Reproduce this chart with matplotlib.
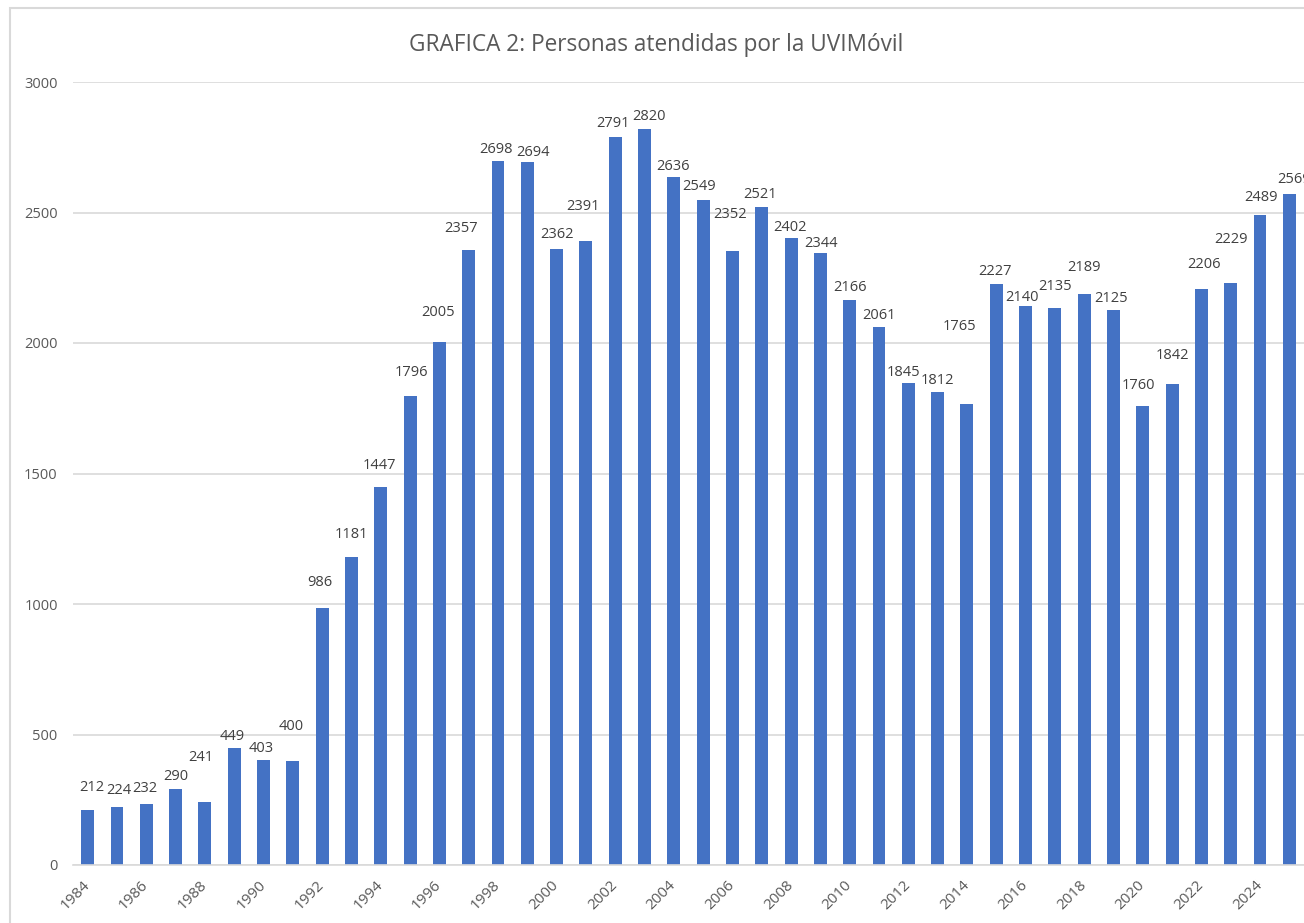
import matplotlib.pyplot as plt
from matplotlib.patches import Rectangle

plt.rcParams['font.family'] = ['Open Sans', 'DejaVu Sans']

years = list(range(1984, 2026))
personas = [212, 224, 232, 290, 241, 449, 403, 400, 986, 1181,
            1447, 1796, 2005, 2357, 2698, 2694, 2362, 2391, 2791, 2820,
            2636, 2549, 2352, 2521, 2402, 2344, 2166, 2061, 1845, 1812,
            1765, 2227, 2140, 2135, 2189, 2125, 1760, 1842, 2206, 2229,
            2489, 2569]
tick_years = years[::2]
title = 'GRAFICA 2: Personas atendidas por la UVIMóvil'

# where excel left the data labels (pixels above bar top / sideways)
label_lift = [22, 16, 16, 13, 45, 11, 11, 34, 25, 22,
              22, 24, 29, 21, 11, 9, 14, 34, 13, 12,
              11, 13, 37, 13, 11, 10, 12, 12, 11, 12,
              78, 12, 9, 21, 26, 12, 20, 29, 25, 44,
              18, 15]
label_shift = [4, 2, -1, 0, -4, -2, -2, -2, -2, 0,
               -1, 1, -1, -8, -2, 6, 0, -3, -2, 4,
               -1, -4, -2, -2, -1, 1, 0, 0, -5, 0,
               -7, -1, -4, 0, 0, -2, -4, 0, 3, 0,
               1, 5]

bar_color = '#4472C4'
text_color = '#595959'
grid_color = '#D9D9D9'

fig = plt.figure(figsize=(13.04, 9.23), dpi=100)
ax = fig.add_axes([73 / 1304, 58 / 923, 1231 / 1304, 783 / 923])

x = list(range(len(years)))
ax.bar(x, personas, width=0.44, color=bar_color, zorder=2)

px = 0.72  # points per pixel at dpi 100
for i, v in enumerate(personas):
    ax.annotate(str(v), (i, v), xytext=(label_shift[i] * px, label_lift[i] * px),
                textcoords='offset points', ha='center', va='center',
                fontsize=10.5, color='#404040', annotation_clip=False)

ax.set_xlim(-0.5, len(years) - 0.5)
ax.set_ylim(0, 3000)
ax.set_yticks(range(0, 3001, 500))
ax.set_yticklabels([str(t) for t in range(0, 3001, 500)], fontsize=10.5, color=text_color)
ax.tick_params(axis='y', length=0, pad=11)

ax.set_xticks([years.index(y) for y in tick_years])
ax.set_xticklabels([str(y) for y in tick_years], rotation=45, ha='right', va='center',
                   rotation_mode='anchor', fontsize=11, color=text_color)
ax.tick_params(axis='x', length=0, pad=13)

ax.grid(axis='y', color=grid_color, lw=1.2, zorder=0)
for s in ['top', 'right', 'left']:
    ax.spines[s].set_visible(False)
ax.spines['bottom'].set_color(grid_color)
ax.spines['bottom'].set_linewidth(1.2)

fig.text(656 / 1304, 1 - 45 / 923, title, ha='center', va='center',
         fontsize=16.3, color=text_color)

# chart border, cut off at the right and bottom in the screenshot
fig.patches.append(Rectangle((10 / 1304, -0.1), 1.2, 1.1 - 8 / 923,
                             transform=fig.transFigure, fill=False,
                             edgecolor=grid_color, lw=1.5))

fig.savefig('out.png', dpi=100)
